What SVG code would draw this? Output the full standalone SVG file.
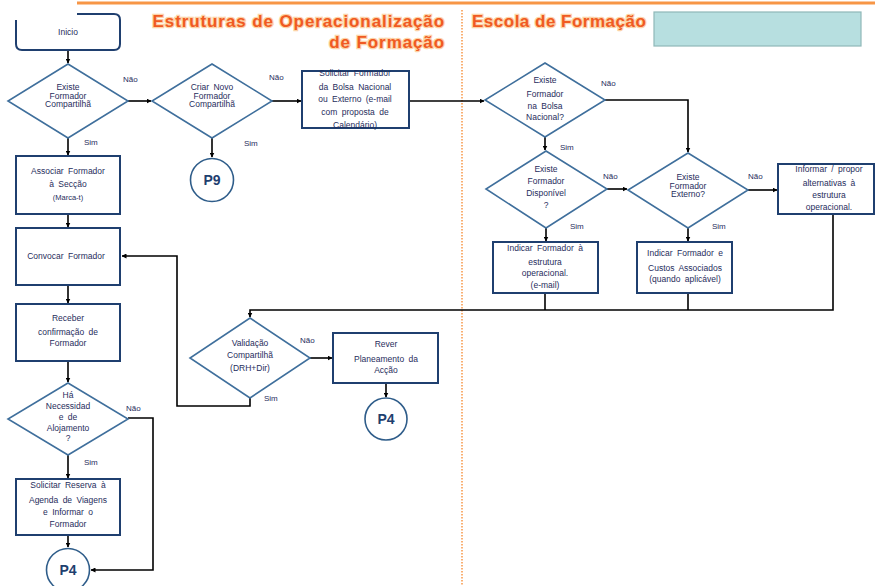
<svg xmlns="http://www.w3.org/2000/svg" width="875" height="586" viewBox="0 0 875 586">
  <defs>
    <marker id="arrow" viewBox="0 0 10 10" refX="9" refY="5" markerWidth="5" markerHeight="5" orient="auto" markerUnits="userSpaceOnUse">
      <path d="M0,0 L10,5 L0,10 z" fill="#000"/>
    </marker>
    <style>
      .box { fill: #fff; stroke: #1f3f6f; stroke-width: 2; }
      .dia { fill: #fff; stroke: #3f6f9c; stroke-width: 1.6; }
      .circ { fill: #fff; stroke: #2f5d8a; stroke-width: 1.6; }
      .t { font-family: "Liberation Sans", Arial, sans-serif; font-size: 8.5px; fill: #1f2d5c; text-anchor: middle; word-spacing: 2px; }
      .small { font-size: 7.5px; }
      .lbl { font-family: "Liberation Sans", Arial, sans-serif; font-size: 8px; fill: #1f2d5c; }
      .pn { font-family: "Liberation Sans", Arial, sans-serif; font-size: 14px; font-weight: bold; fill: #1f3f6f; text-anchor: middle; }
      .head { font-family: "Liberation Sans", Arial, sans-serif; font-size: 17px; font-weight: bold; fill: #f05a22; stroke: #fcd3a8; stroke-width: 2.5px; paint-order: stroke; letter-spacing: 0.9px; }
      .conn path { fill: none; stroke: #000; stroke-width: 1.6; }
    </style>
  </defs>

  <rect width="875" height="586" fill="#fff"/>

  <!-- lane frame -->
  <line x1="77" y1="3" x2="875" y2="3" stroke="#f79646" stroke-width="3"/>
  <line x1="462" y1="10" x2="462" y2="586" stroke="#f79646" stroke-width="1.5" stroke-dasharray="1.5 1.5"/>

  <text class="head" x="445" y="27" text-anchor="end">Estruturas de Operacionalização</text>
  <text class="head" x="445" y="48" text-anchor="end">de Formação</text>
  <text class="head" x="472" y="27" style="letter-spacing:0.5px">Escola de Formação</text>
  <rect x="654" y="12" width="207" height="34" fill="#b7dfe0" stroke="#8fb8b8" stroke-width="1.2"/>

  <!-- connectors -->
  <g class="conn" id="connectors">
    <path d="M68 50 V63" marker-end="url(#arrow)"/>
    <path d="M128 101 H151" marker-end="url(#arrow)"/>
    <path d="M212 137 V157" marker-end="url(#arrow)"/>
    <path d="M272 101 H301" marker-end="url(#arrow)"/>
    <path d="M409 101 H484" marker-end="url(#arrow)"/>
    <path d="M605 100 H688 V152" marker-end="url(#arrow)"/>
    <path d="M545 137 V150" marker-end="url(#arrow)"/>
    <path d="M607 189 H627" marker-end="url(#arrow)"/>
    <path d="M748 190 H777" marker-end="url(#arrow)"/>
    <path d="M546 228 V241" marker-end="url(#arrow)"/>
    <path d="M688 228 V241" marker-end="url(#arrow)"/>
    <path d="M545 293 V310"/>
    <path d="M688 293 V310"/>
    <path d="M833 214 V310 H250 V317" stroke-width="2.2" marker-end="url(#arrow)"/>
    <path d="M310 358 H332" marker-end="url(#arrow)"/>
    <path d="M386 383 V397" marker-end="url(#arrow)"/>
    <path d="M250 398 V406 H177 V256 H122" marker-end="url(#arrow)"/>
    <path d="M68 137 V155" marker-end="url(#arrow)"/>
    <path d="M68 214 V227" marker-end="url(#arrow)"/>
    <path d="M68 285 V303" marker-end="url(#arrow)"/>
    <path d="M68 361 V382" marker-end="url(#arrow)"/>
    <path d="M68 455 V478" marker-end="url(#arrow)"/>
    <path d="M68 535 V547" marker-end="url(#arrow)"/>
    <path d="M128 418 H153 V570 H91" marker-end="url(#arrow)"/>
  </g>

  <!-- branch labels -->
  <g id="labels">
    <text class="lbl" x="123" y="82">Não</text>
    <text class="lbl" x="84" y="145">Sim</text>
    <text class="lbl" x="269" y="80">Não</text>
    <text class="lbl" x="244" y="146">Sim</text>
    <text class="lbl" x="601" y="86">Não</text>
    <text class="lbl" x="560" y="150">Sim</text>
    <text class="lbl" x="603" y="179">Não</text>
    <text class="lbl" x="570" y="229">Sim</text>
    <text class="lbl" x="748" y="179">Não</text>
    <text class="lbl" x="712" y="229">Sim</text>
    <text class="lbl" x="300" y="343">Não</text>
    <text class="lbl" x="264" y="401">Sim</text>
    <text class="lbl" x="126" y="411">Não</text>
    <text class="lbl" x="84" y="465">Sim</text>
  </g>

  <g id="inicio">
    <path class="box" d="M16 20 V44 Q16 50 22 50 H114 Q120 50 120 44 V20 Q120 14 114 14 H77" stroke-width="2"/>
    <text class="t" x="68" y="35">Inicio</text>
  </g>

  <g id="existe-compartilhado">
    <polygon class="dia" points="68,64 128,101 68,138 8,101"/>
    <text class="t" x="68" y="90">Existe</text>
    <text class="t" x="68" y="98.5">Formador</text>
    <text class="t" x="68" y="107">Compartilhã</text>
  </g>

  <g id="criar-novo">
    <polygon class="dia" points="212,64 272,101 212,138 152,101"/>
    <text class="t" x="212" y="90">Criar Novo</text>
    <text class="t" x="212" y="98.5">Formador</text>
    <text class="t" x="212" y="107">Compartilhã</text>
  </g>

  <g id="p9">
    <circle class="circ" cx="212" cy="180" r="21.5"/>
    <text class="pn" x="212" y="185">P9</text>
  </g>

  <g id="solicitar-formador">
    <rect class="box" x="302" y="71" width="107" height="57"/>
    <text class="t" x="355" y="76">Solicitar Formador</text>
    <text class="t" x="355" y="90">da Bolsa Nacional</text>
    <text class="t" x="355" y="102">ou Externo (e-mail</text>
    <text class="t" x="355" y="115">com proposta de</text>
    <text class="t" x="355" y="128">Calendário)</text>
  </g>

  <g id="existe-bolsa">
    <polygon class="dia" points="545,63 605,100 545,137 485,100"/>
    <text class="t" x="545" y="83">Existe</text>
    <text class="t" x="545" y="97">Formador</text>
    <text class="t" x="545" y="109">na Bolsa</text>
    <text class="t" x="545" y="120">Nacional?</text>
  </g>

  <g id="existe-disponivel">
    <polygon class="dia" points="546,151 607,189 546,228 486,189"/>
    <text class="t" x="546" y="172">Existe</text>
    <text class="t" x="546" y="184">Formador</text>
    <text class="t" x="546" y="196">Disponível</text>
    <text class="t" x="546" y="208">?</text>
  </g>

  <g id="existe-externo">
    <polygon class="dia" points="688,153 748,190 688,228 628,190"/>
    <text class="t" x="688" y="180">Existe</text>
    <text class="t" x="688" y="188.5">Formador</text>
    <text class="t" x="688" y="197">Externo?</text>
  </g>

  <g id="informar-propor">
    <rect class="box" x="778" y="164" width="96" height="50"/>
    <text class="t" x="829" y="172">Informar / propor</text>
    <text class="t" x="829" y="186">alternativas à</text>
    <text class="t" x="829" y="198">estrutura</text>
    <text class="t" x="829" y="210">operacional.</text>
  </g>

  <g id="indicar-formador">
    <rect class="box" x="493" y="242" width="105" height="51"/>
    <text class="t" x="545" y="251">Indicar Formador à</text>
    <text class="t" x="545" y="265">estrutura</text>
    <text class="t" x="545" y="276">operacional.</text>
    <text class="t" x="545" y="288">(e-mail)</text>
  </g>

  <g id="indicar-custos">
    <rect class="box" x="637" y="242" width="95" height="51"/>
    <text class="t" x="685" y="256">Indicar Formador e</text>
    <text class="t" x="685" y="271">Custos Associados</text>
    <text class="t" x="685" y="282">(quando aplicável)</text>
  </g>

  <g id="validacao">
    <polygon class="dia" points="250,318 310,358 250,398 190,358"/>
    <text class="t" x="250" y="346">Validação</text>
    <text class="t" x="250" y="358">Compartilhã</text>
    <text class="t" x="250" y="371">(DRH+Dir)</text>
  </g>

  <g id="rever-planeamento">
    <rect class="box" x="333" y="333" width="105" height="50"/>
    <text class="t" x="386" y="347">Rever</text>
    <text class="t" x="386" y="362">Planeamento da</text>
    <text class="t" x="386" y="373">Acção</text>
  </g>

  <g id="p4-rever">
    <circle class="circ" cx="386" cy="419" r="21"/>
    <text class="pn" x="386" y="424">P4</text>
  </g>

  <g id="associar-formador">
    <rect class="box" x="16" y="156" width="104" height="58"/>
    <text class="t" x="68" y="174">Associar Formador</text>
    <text class="t" x="68" y="187">à Secção</text>
    <text class="t small" x="68" y="200">(Marca-t)</text>
  </g>

  <g id="convocar-formador">
    <rect class="box" x="16" y="228" width="104" height="57"/>
    <text class="t" x="66" y="259">Convocar Formador</text>
  </g>

  <g id="receber-confirmacao">
    <rect class="box" x="16" y="304" width="104" height="57"/>
    <text class="t" x="68" y="321">Receber</text>
    <text class="t" x="68" y="335">confirmação de</text>
    <text class="t" x="68" y="346">Formador</text>
  </g>

  <g id="necessidade-alojamento">
    <polygon class="dia" points="68,383 128,419 68,455 8,419"/>
    <text class="t" x="68" y="398">Há</text>
    <text class="t" x="68" y="409">Necessidad</text>
    <text class="t" x="68" y="420">e de</text>
    <text class="t" x="68" y="431">Alojamento</text>
    <text class="t" x="68" y="441">?</text>
  </g>

  <g id="solicitar-reserva">
    <rect class="box" x="16" y="479" width="104" height="56"/>
    <text class="t" x="68" y="488">Solicitar Reserva à</text>
    <text class="t" x="68" y="503">Agenda de Viagens</text>
    <text class="t" x="68" y="515">e Informar o</text>
    <text class="t" x="68" y="527">Formador</text>
  </g>

  <g id="p4-alojamento">
    <circle class="circ" cx="68" cy="570" r="21.5"/>
    <text class="pn" x="68" y="575">P4</text>
  </g>
</svg>
